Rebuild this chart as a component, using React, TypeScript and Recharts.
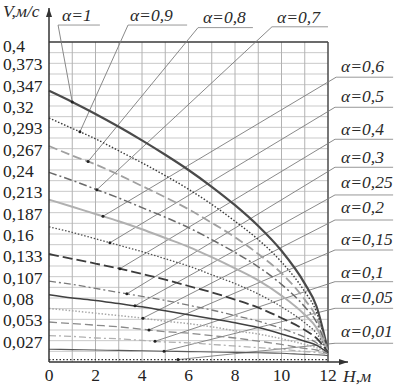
import React from 'react';
import { LineChart, Line, XAxis, YAxis, CartesianGrid, ReferenceLine, ReferenceDot } from 'recharts';

// ---------- data ----------
const H_VALUES = [0, 1, 2, 3, 4, 5, 6, 7, 8, 9, 10, 11, 11.5, 12];

const V_A100 = [0.339, 0.325, 0.310, 0.294, 0.277, 0.259, 0.240, 0.219, 0.196, 0.170, 0.139, 0.098, 0.070, 0.014];
const V_A090 = [0.305, 0.292, 0.279, 0.264, 0.249, 0.233, 0.216, 0.197, 0.176, 0.153, 0.125, 0.088, 0.063, 0.013];
const V_A080 = [0.270, 0.258, 0.247, 0.234, 0.220, 0.206, 0.191, 0.174, 0.156, 0.135, 0.111, 0.078, 0.056, 0.013];
const V_A070 = [0.237, 0.227, 0.216, 0.205, 0.193, 0.181, 0.168, 0.153, 0.137, 0.119, 0.097, 0.069, 0.050, 0.012];
const V_A060 = [0.203, 0.194, 0.185, 0.176, 0.166, 0.155, 0.144, 0.131, 0.117, 0.102, 0.083, 0.059, 0.043, 0.012];
const V_A050 = [0.169, 0.162, 0.154, 0.146, 0.138, 0.129, 0.120, 0.109, 0.098, 0.085, 0.069, 0.049, 0.036, 0.012];
const V_A040 = [0.135, 0.129, 0.123, 0.117, 0.110, 0.103, 0.095, 0.087, 0.078, 0.068, 0.055, 0.040, 0.030, 0.012];
const V_A030 = [0.101, 0.097, 0.092, 0.087, 0.082, 0.077, 0.071, 0.065, 0.058, 0.051, 0.042, 0.031, 0.024, 0.011];
const V_A025 = [0.084, 0.080, 0.077, 0.073, 0.069, 0.064, 0.059, 0.054, 0.049, 0.043, 0.035, 0.026, 0.021, 0.011];
const V_A020 = [0.067, 0.064, 0.061, 0.058, 0.055, 0.051, 0.048, 0.044, 0.039, 0.035, 0.029, 0.022, 0.018, 0.010];
const V_A015 = [0.050, 0.048, 0.046, 0.044, 0.041, 0.038, 0.036, 0.033, 0.030, 0.026, 0.022, 0.017, 0.015, 0.010];
const V_A010 = [0.033, 0.032, 0.030, 0.029, 0.027, 0.025, 0.024, 0.022, 0.020, 0.018, 0.016, 0.013, 0.012, 0.009];
const V_A005 = [0.016, 0.0155, 0.015, 0.0145, 0.014, 0.0135, 0.013, 0.0125, 0.012, 0.0115, 0.011, 0.0095, 0.009, 0.008];
const V_A001 = [0.003, 0.003, 0.003, 0.003, 0.003, 0.003, 0.003, 0.003, 0.003, 0.003, 0.003, 0.003, 0.003, 0.003];

const SERIES_LABELS = ['α=1', 'α=0,9', 'α=0,8', 'α=0,7', 'α=0,6', 'α=0,5', 'α=0,4', 'α=0,3', 'α=0,25', 'α=0,2', 'α=0,15', 'α=0,1', 'α=0,05', 'α=0,01'];
const SERIES_VALUES = [V_A100, V_A090, V_A080, V_A070, V_A060, V_A050, V_A040, V_A030, V_A025, V_A020, V_A015, V_A010, V_A005, V_A001];

const X_TICKS = [0, 2, 4, 6, 8, 10, 12];
const Y_TICK_LABELS = ['0,027', '0,053', '0,08', '0,107', '0,133', '0,16', '0,187', '0,213', '0,24', '0,267', '0,293', '0,32', '0,347', '0,373', '0,4'];
const X_TITLE = 'H,м';
const Y_TITLE = 'V,м/с';

// ---------- styles ----------
const FONT = '"Liberation Serif", "Times New Roman", Times, serif';
const SERIES_STYLES = [
  { stroke: '#4a4a4a', width: 2.2, dash: undefined },
  { stroke: '#3a3a3a', width: 1.4, dash: '1.5 1.8' },
  { stroke: '#a0a0a0', width: 1.8, dash: '9 4' },
  { stroke: '#6a6a6a', width: 1.5, dash: '8 3 2 3' },
  { stroke: '#b0b0b0', width: 2, dash: undefined },
  { stroke: '#505050', width: 1.3, dash: '1.5 1.8' },
  { stroke: '#3c3c3c', width: 1.8, dash: '10 4' },
  { stroke: '#7a7a7a', width: 1.3, dash: '7 3 2 3' },
  { stroke: '#404040', width: 1.5, dash: undefined },
  { stroke: '#a8a8a8', width: 1.5, dash: '1.5 1.8' },
  { stroke: '#8a8a8a', width: 1.3, dash: '8 4' },
  { stroke: '#b0b0b0', width: 1.3, dash: '7 3 2 3' },
  { stroke: '#5a5a5a', width: 1.1, dash: undefined },
  { stroke: '#333333', width: 1.2, dash: '1.5 2' },
];

// annotation placement (data coordinates): text position, underline span, leader target H
const ANNOT = [
  { tx: 0.56, ty: 0.4262, u1: 0.39, u2: 2.19, uy: 0.4212, ph: 1.0 },
  { tx: 3.48, ty: 0.4262, u1: 3.40, u2: 5.94, uy: 0.4212, ph: 1.33 },
  { tx: 6.62, ty: 0.4240, u1: 6.41, u2: 8.77, uy: 0.4180, ph: 1.68 },
  { tx: 9.81, ty: 0.4240, u1: 9.59, u2: 12.0, uy: 0.4190, ph: 2.06 },
  { tx: 12.56, ty: 0.3625, u1: 12.35, u2: 14.8, uy: 0.3560, ph: 2.32 },
  { tx: 12.56, ty: 0.3250, u1: 12.30, u2: 14.8, uy: 0.3184, ph: 2.62 },
  { tx: 12.56, ty: 0.2838, u1: 12.30, u2: 14.8, uy: 0.2784, ph: 3.05 },
  { tx: 12.56, ty: 0.2488, u1: 12.30, u2: 14.8, uy: 0.2434, ph: 3.35 },
  { tx: 12.56, ty: 0.2175, u1: 12.30, u2: 14.8, uy: 0.2088, ph: 3.70 },
  { tx: 12.56, ty: 0.1863, u1: 12.30, u2: 14.8, uy: 0.1775, ph: 4.04 },
  { tx: 12.56, ty: 0.1463, u1: 12.30, u2: 14.8, uy: 0.1400, ph: 4.30 },
  { tx: 12.56, ty: 0.1050, u1: 12.30, u2: 14.8, uy: 0.1004, ph: 4.56 },
  { tx: 12.56, ty: 0.0738, u1: 12.30, u2: 14.8, uy: 0.0671, ph: 4.95 },
  { tx: 12.56, ty: 0.0313, u1: 12.30, u2: 14.8, uy: 0.0234, ph: 5.55 },
];

// ---------- derived ----------
const Y_MAX = 0.4;
const Y_TICKS = Y_TICK_LABELS.map((_, i) => (Y_MAX * (i + 1)) / Y_TICK_LABELS.length);
const H_GRID = Array.from({ length: 29 }, (_, i) => (Y_MAX * (i + 1)) / 30);
const V_GRID = [1, 2, 3, 4, 5, 6, 7, 8, 9, 10, 11];

const rows = H_VALUES.map((h, i) => {
  const r: any = { H: h };
  SERIES_VALUES.forEach((vals, k) => {
    r['s' + k] = vals[i];
  });
  return r;
});

const interp = (vals: number[], h: number) => {
  for (let i = 0; i < H_VALUES.length - 1; i++) {
    const a = H_VALUES[i];
    const b = H_VALUES[i + 1];
    if (h >= a && h <= b) return vals[i] + ((vals[i + 1] - vals[i]) * (h - a)) / (b - a);
  }
  return vals[vals.length - 1];
};

const YTick = (props: any) => {
  const { y, payload, index } = props;
  const idx = index ?? Y_TICKS.indexOf(payload.value);
  const isTop = idx === Y_TICK_LABELS.length - 1;
  return (
    <text x={3} y={y + (isTop ? 10 : 7)} textAnchor="start" fontFamily={FONT} fontSize={17.5} fill="#222">
      {Y_TICK_LABELS[idx]}
    </text>
  );
};

const XTick = (props: any) => {
  const { x, y, payload } = props;
  return (
    <text x={x} y={y + 19} textAnchor="middle" fontFamily={FONT} fontSize={17.5} fill="#222">
      {payload.value}
    </text>
  );
};

const textShape = (label: string) => (p: any) => (
  <text x={p.cx} y={p.cy} textAnchor="start" fontFamily={FONT} fontStyle="italic" fontSize={17.5} fill="#2a2a2a">
    {label}
  </text>
);

const upArrow = (p: any) => (
  <path d={`M ${p.cx} ${p.cy} L ${p.cx - 3} ${p.cy + 9} L ${p.cx + 3} ${p.cy + 9} Z`} fill="#333" />
);
const rightArrow = (p: any) => (
  <path d={`M ${p.cx} ${p.cy} L ${p.cx - 9} ${p.cy - 3} L ${p.cx - 9} ${p.cy + 3} Z`} fill="#333" />
);

export default function App() {
  return (
    <div style={{ position: 'absolute', left: 0, top: 0, width: 403, height: 388, background: '#fff' }}>
      <LineChart width={403} height={388} data={rows} margin={{ top: 42, right: 75, bottom: 0, left: 3 }}>
        <CartesianGrid vertical={false} horizontalValues={H_GRID} stroke="#c9c9c9" strokeWidth={1} />
        <CartesianGrid horizontal={false} verticalValues={V_GRID} stroke="#b2b2b2" strokeWidth={1} />
        <XAxis
          type="number"
          dataKey="H"
          domain={[0, 12]}
          ticks={X_TICKS}
          interval={0}
          height={26}
          tickLine={false}
          tickSize={0}
          tickMargin={0}
          axisLine={{ stroke: '#333', strokeWidth: 1.5 }}
          tick={<XTick />}
        />
        <YAxis
          type="number"
          domain={[0, Y_MAX]}
          ticks={Y_TICKS}
          interval={0}
          width={46}
          tickLine={false}
          tickSize={0}
          tickMargin={0}
          axisLine={{ stroke: '#333', strokeWidth: 1.5 }}
          tick={YTick}
        />
        <ReferenceLine y={Y_MAX} stroke="#3a3a3a" strokeWidth={1.5} />
        <ReferenceLine x={12} stroke="#4a4a4a" strokeWidth={1.5} />
        <ReferenceLine segment={[{ x: 0, y: Y_MAX }, { x: 0, y: 0.4425 }]} stroke="#333" strokeWidth={1.5} ifOverflow="visible" />
        <ReferenceLine segment={[{ x: 12, y: 0 }, { x: 12.86, y: 0 }]} stroke="#333" strokeWidth={1.5} ifOverflow="visible" />
        <ReferenceDot x={0} y={0.4425} r={0} ifOverflow="visible" shape={upArrow} />
        <ReferenceDot x={12.86} y={0} r={0} ifOverflow="visible" shape={rightArrow} />
        <ReferenceDot x={-1.98} y={0.4312} r={0} ifOverflow="visible" shape={textShape(Y_TITLE)} />
        <ReferenceDot x={12.65} y={-0.0245} r={0} ifOverflow="visible" shape={textShape(X_TITLE)} />

        {ANNOT.map((a, k) => (
          <ReferenceLine
            key={'ul' + k}
            segment={[{ x: a.u1, y: a.uy }, { x: a.u2, y: a.uy }]}
            stroke="#8c8c8c"
            strokeWidth={0.9}
            ifOverflow="visible"
          />
        ))}
        {ANNOT.map((a, k) => (
          <ReferenceLine
            key={'ld' + k}
            segment={[{ x: a.u1, y: a.uy }, { x: a.ph, y: interp(SERIES_VALUES[k], a.ph) }]}
            stroke="#7c7c7c"
            strokeWidth={0.9}
            ifOverflow="visible"
          />
        ))}

        {SERIES_VALUES.map((_, k) => (
          <Line
            key={'s' + k}
            dataKey={'s' + k}
            name={SERIES_LABELS[k]}
            type="monotone"
            dot={false}
            activeDot={false}
            stroke={SERIES_STYLES[k].stroke}
            strokeWidth={SERIES_STYLES[k].width}
            strokeDasharray={SERIES_STYLES[k].dash}
            isAnimationActive={false}
          />
        ))}

        {ANNOT.map((a, k) => (
          <ReferenceDot
            key={'pt' + k}
            x={a.ph}
            y={interp(SERIES_VALUES[k], a.ph)}
            r={1.5}
            fill="#222"
            stroke="none"
            ifOverflow="visible"
          />
        ))}
        {ANNOT.map((a, k) => (
          <ReferenceDot key={'tx' + k} x={a.tx} y={a.ty} r={0} ifOverflow="visible" shape={textShape(SERIES_LABELS[k])} />
        ))}
      </LineChart>
    </div>
  );
}
